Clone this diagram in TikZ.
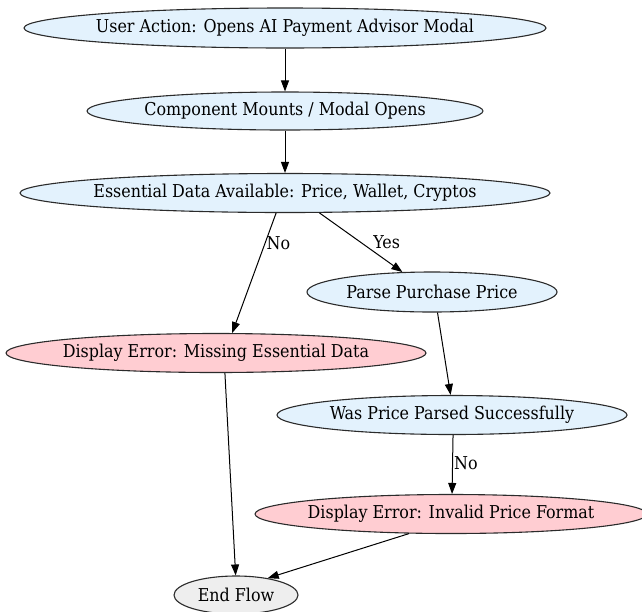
\documentclass[tikz,border=0pt]{standalone}
\usepackage{fontspec}
\setmainfont{DejaVu Serif Condensed}
\usetikzlibrary{shapes.geometric,arrows.meta}
\definecolor{stepblue}{HTML}{E3F2FD}
\definecolor{errpink}{HTML}{FFCDD2}
\definecolor{endgrey}{HTML}{EEEEEE}
\definecolor{edgeline}{HTML}{2B2B2B}
% zero-width label so that the ellipse keeps its given size
\newcommand{\flowtext}[1]{\makebox[0pt][c]{#1}}
\tikzset{
  flownode/.style={ellipse, draw=edgeline, line width=1.1pt, inner sep=0pt,
    font=\fontsize{17.7}{20}\selectfont},
  stepnode/.style={flownode, fill=stepblue},
  errnode/.style={flownode, fill=errpink},
  endnode/.style={flownode, fill=endgrey},
  flow/.style={draw=black, line width=1pt, -{Triangle[length=11pt,width=8pt]}},
  edgelabel/.style={font=\fontsize{17.7}{20}\selectfont, inner sep=1pt}
}
\begin{document}
\begin{tikzpicture}[x=1pt,y=-1pt]
\useasboundingbox (0,0) rectangle (642,611);

\node[stepnode, minimum width=522, minimum height=40] (open) at (285,28)
  {\flowtext{User Action: Opens AI Payment Advisor Modal}};
\node[stepnode, minimum width=396, minimum height=38] (mount) at (285,111)
  {\flowtext{Component Mounts / Modal Opens}};
\node[stepnode, minimum width=530, minimum height=39] (data) at (285,193)
  {\flowtext{Essential Data Available: Price, Wallet, Cryptos}};
\node[stepnode, minimum width=250, minimum height=40] (parse) at (432,292)
  {\flowtext{Parse Purchase Price}};
\node[errnode, minimum width=420, minimum height=39] (missing) at (216,353)
  {\flowtext{Display Error: Missing Essential Data}};
\node[stepnode, minimum width=350, minimum height=39] (parsed) at (452,415)
  {\flowtext{Was Price Parsed Successfully}};
\node[errnode, minimum width=392, minimum height=39] (invalid) at (451,514)
  {\flowtext{Display Error: Invalid Price Format}};
\node[endnode, minimum width=124, minimum height=38] (end) at (236,595)
  {\flowtext{End Flow}};

\draw[flow] (open) -- (mount);
\draw[flow] (mount) -- (data);
\draw[flow] (data.-114) -- node[pos=0.25, anchor=west, edgelabel] {No} (missing.51);
\draw[flow] (data.-30) -- node[pos=0.5, anchor=west, edgelabel, xshift=11pt] {Yes} (parse.146);
\draw[flow] (parse.-75) -- (parsed.94);
\draw[flow] (parsed.-87) -- node[pos=0.47, anchor=west, edgelabel] {No} (invalid.87);
\draw[flow] (missing.-66) -- (end.91);
\draw[flow] (invalid.-155) -- (end.28);
\end{tikzpicture}
\end{document}
